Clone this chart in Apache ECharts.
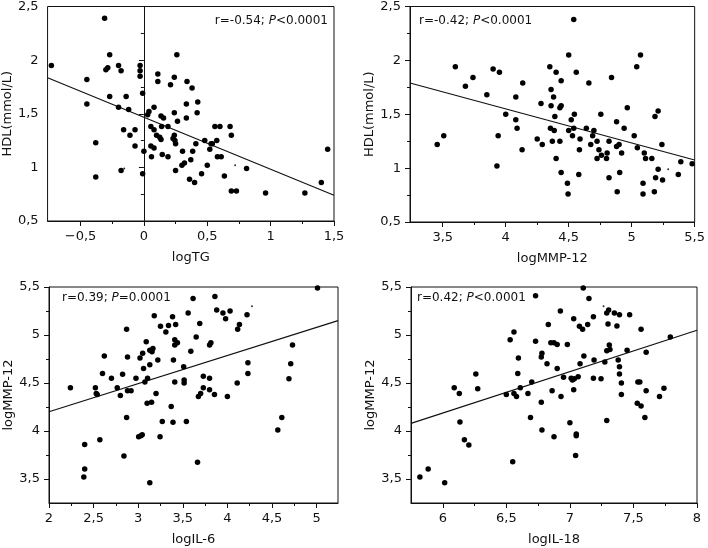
<!DOCTYPE html>
<html><head><meta charset="utf-8">
<script src="https://cdn.jsdelivr.net/npm/echarts@6/dist/echarts.min.js"></script>
<style>html,body{margin:0;padding:0;background:#fff}#c{width:708px;height:548px}</style>
</head><body><div id="c"></div>
<script>
// Panel 1: logTG vs HDL
const p1Points = [[-0.73,1.95],[-0.31,2.39],[-0.27,2.05],[-0.30,1.91],[-0.285,1.93],[-0.20,1.95],[-0.18,1.90],[-0.45,1.82],[-0.27,1.66],[-0.45,1.59],[-0.14,1.66],[-0.20,1.56],[-0.12,1.54],[-0.16,1.35],[-0.11,1.30],[-0.07,1.35],[-0.38,1.23],[-0.07,1.20],[-0.18,0.97],[-0.38,0.91],[-0.03,1.95],[-0.03,1.90],[-0.03,1.85],[-0.01,1.69],[0.03,1.49],[0.04,1.52],[0.0,1.15],[-0.01,0.94],[0.11,1.87],[0.11,1.80],[0.08,1.56],[0.055,1.38],[0.08,1.35],[0.10,1.30],[0.125,1.28],[0.135,1.26],[0.055,1.20],[0.08,1.18],[0.06,1.10],[0.135,1.48],[0.155,1.46],[0.14,1.38],[0.145,1.12],[0.19,1.10],[0.19,1.38],[0.21,1.77],[0.24,1.84],[0.26,2.05],[0.24,1.51],[0.265,1.43],[0.24,1.30],[0.23,1.27],[0.245,1.25],[0.25,1.22],[0.25,0.97],[0.305,1.15],[0.30,1.02],[0.32,1.04],[0.34,1.80],[0.335,1.59],[0.335,1.46],[0.36,0.89],[0.38,1.74],[0.425,1.61],[0.42,1.51],[0.41,1.22],[0.385,1.15],[0.37,1.07],[0.40,0.86],[0.455,0.94],[0.48,1.25],[0.50,1.02],[0.52,1.17],[0.53,1.22],[0.54,1.22],[0.56,1.38],[0.60,1.38],[0.575,1.25],[0.58,1.10],[0.61,1.10],[0.635,0.92],[0.68,1.38],[0.69,1.30],[0.69,0.78],[0.73,0.78],[0.81,0.99],[0.96,0.76],[1.27,0.76],[1.40,0.86],[1.45,1.17]];
const p1Specks = [[0.72,1.02],[-0.155,0.99]];
const p1Fit = [[-0.76,1.836],[1.5,0.74]];

// Panel 2: logMMP-12 vs HDL
const p2Points = [[3.456,1.22],[3.508,1.30],[3.60,1.94],[3.68,1.76],[3.74,1.84],[3.85,1.68],[3.90,1.92],[3.95,1.89],[3.94,1.30],[3.93,1.02],[4.00,1.50],[4.08,1.66],[4.08,1.45],[4.09,1.37],[4.135,1.79],[4.13,1.17],[4.25,1.27],[4.28,1.60],[4.29,1.22],[4.35,1.94],[4.36,1.73],[4.36,1.58],[4.355,1.37],[4.37,1.25],[4.38,1.66],[4.39,1.48],[4.385,1.35],[4.40,1.89],[4.40,1.09],[4.44,1.81],[4.44,1.58],[4.43,1.56],[4.43,1.25],[4.44,0.96],[4.49,0.86],[4.50,2.05],[4.50,1.35],[4.495,0.76],[4.52,1.45],[4.53,1.30],[4.54,2.38],[4.545,1.50],[4.54,1.37],[4.56,1.89],[4.59,1.27],[4.585,1.17],[4.58,0.94],[4.64,1.37],[4.66,1.79],[4.675,1.22],[4.69,1.30],[4.70,1.35],[4.725,1.25],[4.725,1.09],[4.74,1.17],[4.76,1.12],[4.755,1.50],[4.80,1.09],[4.805,1.14],[4.82,1.25],[4.82,0.91],[4.84,1.84],[4.88,1.43],[4.88,1.20],[4.885,0.78],[4.90,1.22],[4.905,0.96],[4.92,1.14],[4.94,1.37],[4.965,1.56],[5.02,1.30],[5.04,1.94],[5.045,1.19],[5.07,2.05],[5.09,0.86],[5.09,0.76],[5.10,1.14],[5.11,1.09],[5.16,1.09],[5.18,0.78],[5.185,1.48],[5.19,0.91],[5.21,1.53],[5.21,0.99],[5.24,1.22],[5.245,0.89],[5.37,0.94],[5.39,1.06],[5.48,1.04]];
const p2Specks = [[5.29,0.99]];
const p2Fit = [[3.24,1.79],[5.5,1.075]];

// Panel 3: logIL-6 vs logMMP-12
const p3Points = [[2.24,4.45],[2.40,3.605],[2.39,3.52],[2.40,3.86],[2.52,4.45],[2.53,4.39],[2.54,4.38],[2.57,3.91],[2.60,4.60],[2.62,4.78],[2.70,4.55],[2.765,4.45],[2.80,4.37],[2.825,4.59],[2.84,3.74],[2.87,5.06],[2.88,4.77],[2.87,4.14],[2.88,4.42],[2.92,4.42],[2.975,4.55],[3.005,3.94],[3.03,3.95],[3.045,3.96],[3.02,4.76],[3.05,4.81],[3.06,4.65],[3.09,4.93],[3.075,4.51],[3.105,4.55],[3.10,4.29],[3.13,4.69],[3.13,4.84],[3.155,4.825],[3.165,4.86],[3.15,4.30],[3.13,3.46],[3.18,5.20],[3.20,4.39],[3.22,4.74],[3.25,5.09],[3.245,3.94],[3.27,4.10],[3.31,5.03],[3.34,5.10],[3.37,4.255],[3.385,5.19],[3.395,4.74],[3.39,4.09],[3.41,4.895],[3.41,4.95],[3.41,4.51],[3.42,5.11],[3.44,4.92],[3.51,4.67],[3.515,4.53],[3.515,4.50],[3.54,4.10],[3.56,5.23],[3.59,4.83],[3.615,5.38],[3.65,4.98],[3.665,3.675],[3.69,5.12],[3.675,4.36],[3.70,4.39],[3.73,4.57],[3.73,4.45],[3.80,4.895],[3.815,4.92],[3.80,4.55],[3.80,4.43],[3.86,5.40],[3.88,5.26],[3.855,4.38],[3.95,5.23],[3.98,5.17],[4.00,4.36],[4.03,5.25],[4.115,5.06],[4.135,5.11],[4.11,4.50],[4.22,5.21],[4.23,4.71],[4.23,4.60],[4.565,4.01],[4.61,4.14],[4.69,4.545],[4.71,4.70],[4.73,4.895],[5.01,5.49]];
const p3Specks = [[4.275,5.30]];
const p3Fit = [[2.0,4.2],[5.24,5.15]];

// Panel 4: logIL-18 vs logMMP-12
const p4Points = [[5.82,3.52],[5.885,3.605],[6.015,3.46],[6.09,4.45],[6.13,4.39],[6.135,4.095],[6.17,3.91],[6.205,3.855],[6.26,4.595],[6.275,4.44],[6.50,4.38],[6.53,4.95],[6.55,3.68],[6.56,4.39],[6.56,5.03],[6.58,4.36],[6.59,4.60],[6.595,4.76],[6.61,4.45],[6.67,4.39],[6.69,4.14],[6.70,4.51],[6.73,5.41],[6.73,4.935],[6.775,4.30],[6.78,4.01],[6.775,4.77],[6.78,4.81],[6.82,4.70],[6.83,5.11],[6.86,4.42],[6.85,4.92],[6.875,4.92],[6.875,3.94],[6.90,4.65],[6.90,4.90],[6.925,5.25],[6.93,4.36],[6.95,4.56],[6.98,4.90],[7.00,4.085],[7.01,4.55],[7.02,4.53],[7.03,5.17],[7.03,4.43],[7.035,4.545],[7.05,3.95],[7.05,3.97],[7.045,3.745],[7.065,4.565],[7.08,4.70],[7.075,5.09],[7.10,5.06],[7.105,5.49],[7.11,4.78],[7.14,5.11],[7.15,5.38],[7.185,5.19],[7.185,4.55],[7.19,4.74],[7.245,4.545],[7.275,4.72],[7.29,4.11],[7.29,5.23],[7.30,5.115],[7.305,5.26],[7.29,4.835],[7.31,4.895],[7.315,4.85],[7.35,5.23],[7.37,5.095],[7.38,4.74],[7.39,5.21],[7.39,4.595],[7.39,4.67],[7.405,4.50],[7.405,4.38],[7.45,4.84],[7.47,5.21],[7.53,4.29],[7.535,4.51],[7.55,4.51],[7.56,4.26],[7.56,5.06],[7.59,4.14],[7.60,4.42],[7.60,4.82],[7.705,4.36],[7.74,4.445],[7.79,4.98]];
const p4Specks = [[7.265,5.30]];
const p4Fit = [[5.75,4.08],[8.0,5.05]];

// Axis names and ticks
const xNames = ['logTG','logMMP-12','logIL-6','logIL-18'];
const yNames = ['HDL(mmol/L)','HDL(mmol/L)','logMMP-12','logMMP-12'];
const xRanges = [[-0.76,1.5],[3.24,5.5],[2,5.24],[5.75,8]];
const yRanges = [[0.5,2.5],[0.5,2.5],[3.25,5.5],[3.25,5.5]];
const xTicks = [[-0.5,0,0.5,1,1.5],[3.5,4,4.5,5,5.5],[2,2.5,3,3.5,4,4.5,5],[6,6.5,7,7.5,8]];
const xMinor = [[-0.25,0.25,0.75,1.25],[3.75,4.25,4.75,5.25],[2.25,2.75,3.25,3.75,4.25,4.75],[6.25,6.75,7.25,7.75]];
const yTicks = [[0.5,1,1.5,2,2.5],[0.5,1,1.5,2,2.5],[3.5,4,4.5,5,5.5],[3.5,4,4.5,5,5.5]];
const yMinor = [[0.75,1.25,1.75,2.25],[0.75,1.25,1.75,2.25],[3.75,4.25,4.75,5.25],[3.75,4.25,4.75,5.25]];
const notes = [['r=-0.54; ','P','<0.0001'],['r=-0.42; ','P','<0.0001'],['r=0.39; ','P','=0.0001'],['r=0.42; ','P','<0.0001']];

const allPoints = [p1Points,p2Points,p3Points,p4Points];
const allSpecks = [p1Specks,p2Specks,p3Specks,p4Specks];
const allFits = [p1Fit,p2Fit,p3Fit,p4Fit];

const FONT = 'DejaVu Sans';
const TXT = '#111';
const fmt = v => String(v).replace('.', ',').replace('-', '\u2212');

const grids = [
  {left:47, top:5, width:287, height:216},
  {left:410, top:6, width:288, height:216},
  {left:49, top:287, width:289, height:216},
  {left:411, top:287, width:286, height:216}
];

const xAxis = [], yAxis = [], series = [];
grids.forEach((g,i) => {
  xAxis.push({
    type:'value', gridIndex:i, min:xRanges[i][0], max:xRanges[i][1],
    name:xNames[i], nameLocation:'middle', nameGap:30,
    nameTextStyle:{fontFamily:FONT, fontSize:13, color:TXT},
    axisLine:{show:true, lineStyle:{color:'#111', width:1}},
    axisTick:{show:true, length:5, lineStyle:{color:'#111'}, customValues:xTicks[i]},
    axisLabel:{fontFamily:FONT, fontSize:13, color:TXT, margin:9, formatter:fmt, customValues:xTicks[i], showMinLabel:true, showMaxLabel:true},
    splitLine:{show:false}
  });
  xAxis.push({
    type:'value', gridIndex:i, min:xRanges[i][0], max:xRanges[i][1], position:'bottom',
    axisLine:{show:false},
    axisTick:{show:true, length:3, lineStyle:{color:'#111'}, customValues:xMinor[i]},
    axisLabel:{show:false, customValues:xMinor[i]},
    splitLine:{show:false}
  });
  yAxis.push({
    type:'value', gridIndex:i, min:yRanges[i][0], max:yRanges[i][1],
    name:yNames[i], nameLocation:'middle', nameGap:27,
    nameTextStyle:{fontFamily:FONT, fontSize:13, color:TXT},
    axisLine:{show:true, lineStyle:{color:'#111', width:1}},
    axisTick:{show:true, length:5, lineStyle:{color:'#111'}, customValues:yTicks[i]},
    axisLabel:{fontFamily:FONT, fontSize:13, color:TXT, margin:9, formatter:fmt, customValues:yTicks[i], showMinLabel:true, showMaxLabel:true},
    splitLine:{show:false}
  });
  yAxis.push({
    type:'value', gridIndex:i, min:yRanges[i][0], max:yRanges[i][1], position:'left',
    axisLine:{show:false},
    axisTick:{show:true, length:3, lineStyle:{color:'#111'}, customValues:yMinor[i]},
    axisLabel:{show:false, customValues:yMinor[i]},
    splitLine:{show:false}
  });
  series.push({
    type:'scatter', xAxisIndex:2*i, yAxisIndex:2*i, data:allPoints[i],
    symbol:'circle', symbolSize:5.5, itemStyle:{color:'#000', opacity:1}, silent:true, z:3
  });
  series.push({
    type:'scatter', xAxisIndex:2*i, yAxisIndex:2*i, data:allSpecks[i],
    symbol:'circle', symbolSize:2, itemStyle:{color:'#333', opacity:1}, silent:true, z:3
  });
  series.push({
    type:'line', xAxisIndex:2*i, yAxisIndex:2*i, data:allFits[i],
    symbol:'none', lineStyle:{color:'#111', width:1.2}, silent:true, z:2, animation:false
  });
});

const titlePos = [
  {right:380, top:15},
  {left:419, top:15},
  {left:62, top:292},
  {left:417, top:292}
];
const title = notes.map((n,i) => Object.assign({
  text:'{n|'+n[0]+'}{i|'+n[1]+'}{n|'+n[2]+'}', padding:0,
  textStyle:{fontWeight:'normal', rich:{
    n:{fontFamily:FONT, fontSize:12, color:TXT, fontWeight:'normal'},
    i:{fontFamily:FONT, fontSize:12, color:TXT, fontStyle:'italic', fontWeight:'normal'}
  }}
}, titlePos[i]));

const chart = echarts.init(document.getElementById('c'), null, {renderer:'canvas'});
chart.setOption({
  animation:false,
  backgroundColor:'#fff',
  title,
  grid: grids.map(g => Object.assign({show:true, borderColor:'#111', borderWidth:1, backgroundColor:'transparent'}, g)),
  xAxis, yAxis, series
});
</script>
</body></html>
